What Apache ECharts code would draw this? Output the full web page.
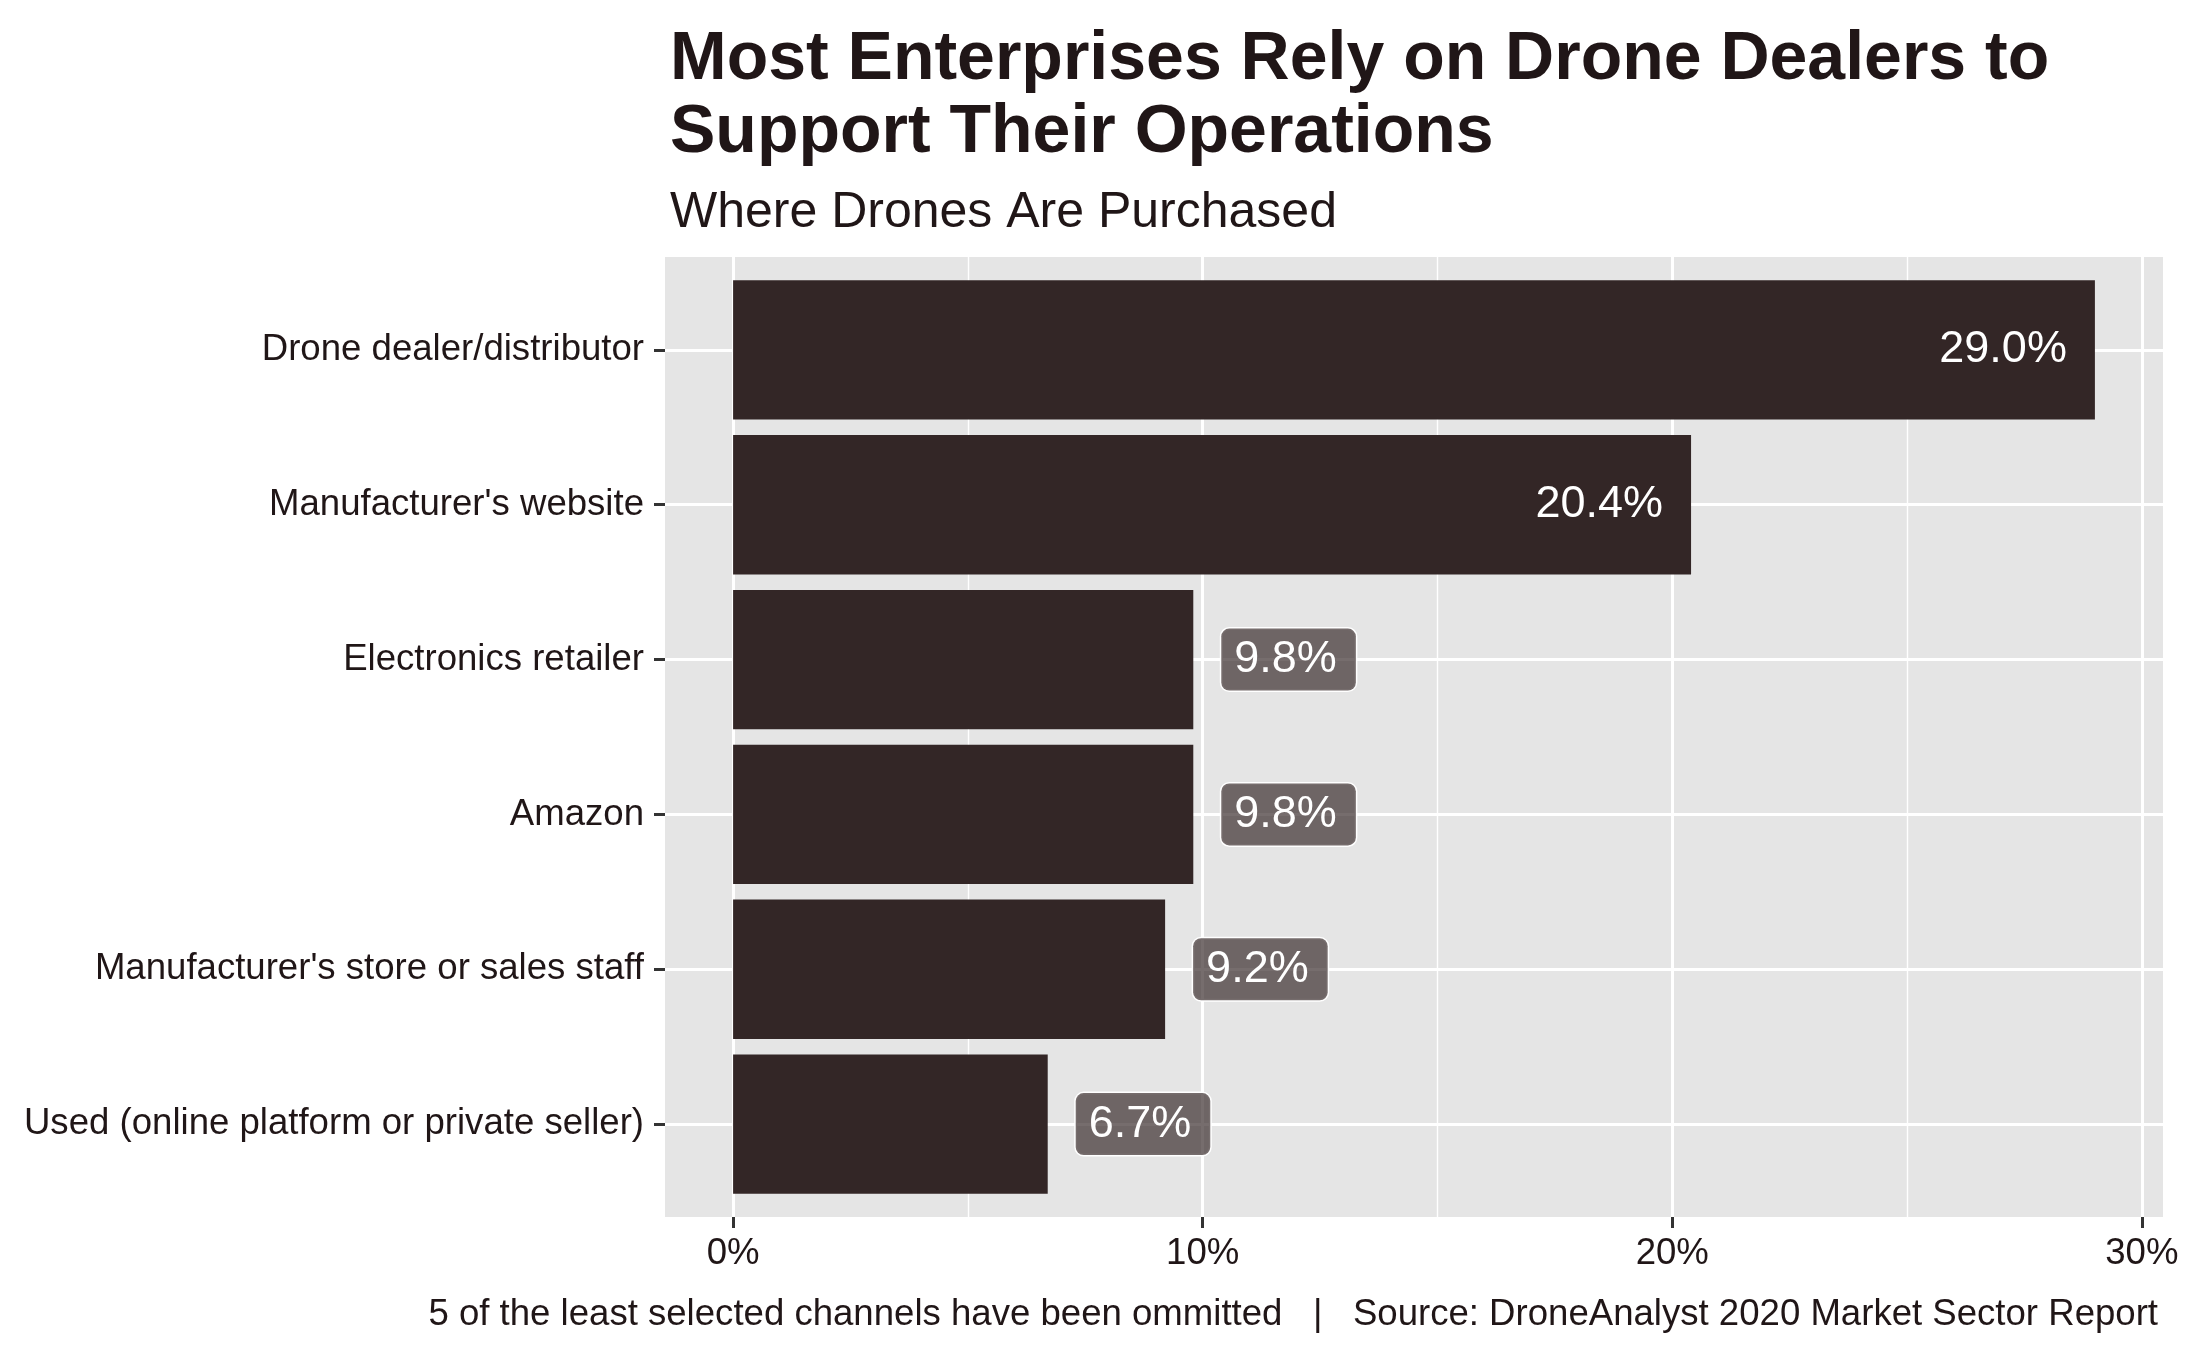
<!DOCTYPE html>
<html><head><meta charset="utf-8">
<script src="https://cdn.jsdelivr.net/npm/echarts@6/dist/echarts.min.js"></script>
<style>html,body{margin:0;padding:0;background:#fff}#c{width:2187px;height:1351px}</style>
</head><body><div id="c"></div>
<script>
const categories = ["Drone dealer/distributor", "Manufacturer's website", "Electronics retailer", "Amazon", "Manufacturer's store or sales staff", "Used (online platform or private seller)"];
const shares = [29.0, 20.4, 9.8, 9.8, 9.2, 6.7];
const xTicks = [0, 10, 20, 30];
const xMinorTicks = [5, 15, 25];
const rowPositions = [1, 2, 3, 4, 5, 6];
const titleText = 'Most Enterprises Rely on Drone Dealers to\nSupport Their Operations';
const subtitleText = 'Where Drones Are Purchased';
const captionText = '5 of the least selected channels have been ommitted   |   Source: DroneAnalyst 2020 Market Sector Report';

const FONT = 'Liberation Sans';
const INK = '#201617';
const BAR = '#332626';
const PL = 665, PR = 2163, PT = 257, PB = 1217;
const W = 2187, H = 1351;
const band = (PB - PT) / 6.2;
const XMIN = -1.45, XMAX = 30.45;

const chart = echarts.init(document.getElementById('c'), null, {renderer: 'canvas'});

const data = shares.map(v => v >= 15 ? {
  value: v,
  label: {position: 'insideRight', distance: 28, color: '#fff', fontSize: 45, fontFamily: FONT}
} : {
  value: v,
  label: {position: 'right', distance: 28, color: '#fff', fontSize: 45, fontFamily: FONT,
    backgroundColor: 'rgba(51,38,38,0.67)', borderColor: '#fff', borderWidth: 1.5, borderRadius: 8,
    padding: [9, 19, 8, 13], lineHeight: 45}
});

chart.setOption({
  backgroundColor: '#fff',
  animation: false,
  title: [
    {text: titleText, left: PL, top: 19, textStyle: {fontFamily: FONT, fontSize: 68, fontWeight: 'bold', color: INK, lineHeight: 73}},
    {text: subtitleText, left: PL, top: 183, textStyle: {fontFamily: FONT, fontSize: 50, fontWeight: 'normal', color: INK, lineHeight: 50}},
    {text: captionText, right: W - PR, top: 1291, textStyle: {fontFamily: FONT, fontSize: 36.6, fontWeight: 'normal', color: INK, lineHeight: 37}}
  ],
  grid: [
    {left: PL, top: PT, width: PR - PL, height: PB - PT, show: true, backgroundColor: '#E5E5E5', borderWidth: 0, containLabel: false},
    {left: PL, top: PT + 0.1 * band, width: PR - PL, height: PB - PT - 0.2 * band, show: false, containLabel: false}
  ],
  xAxis: [
    {type: 'value', gridIndex: 0, min: XMIN, max: XMAX,
      axisLine: {show: false},
      axisTick: {show: true, customValues: xTicks, length: 11, lineStyle: {color: '#333', width: 3}},
      axisLabel: {show: true, customValues: xTicks, formatter: v => v + '%', margin: 18, fontFamily: FONT, fontSize: 36.6, color: INK},
      splitLine: {show: true, lineStyle: {color: '#fff', width: 3}}},
    {type: 'value', gridIndex: 0, min: XMIN, max: XMAX,
      axisLine: {show: false},
      axisTick: {show: false, customValues: xMinorTicks},
      axisLabel: {show: false, customValues: xMinorTicks},
      splitLine: {show: true, lineStyle: {color: '#fff', width: 1.4}}},
    {type: 'value', gridIndex: 1, min: XMIN, max: XMAX, show: false,
      splitLine: {show: false}}
  ],
  yAxis: [
    {type: 'value', gridIndex: 0, min: 0.4, max: 6.6, inverse: true,
      axisLine: {show: false},
      axisTick: {show: false, customValues: rowPositions},
      axisLabel: {show: false, customValues: rowPositions},
      splitLine: {show: true, lineStyle: {color: '#fff', width: 3}}},
    {type: 'category', gridIndex: 1, data: categories, inverse: true,
      axisLine: {show: false, onZero: false},
      axisTick: {show: true, alignWithLabel: true, length: 11, lineStyle: {color: '#333', width: 3}},
      axisLabel: {show: true, margin: 21, fontFamily: FONT, fontSize: 36.6, color: INK, padding: [6, 0, 0, 0]},
      splitLine: {show: false}}
  ],
  series: [{
    type: 'bar', xAxisIndex: 2, yAxisIndex: 1, data: data, barWidth: '90%',
    itemStyle: {color: BAR},
    label: {show: true, formatter: p => p.value.toFixed(1) + '%'}
  }]
});
</script></body></html>
